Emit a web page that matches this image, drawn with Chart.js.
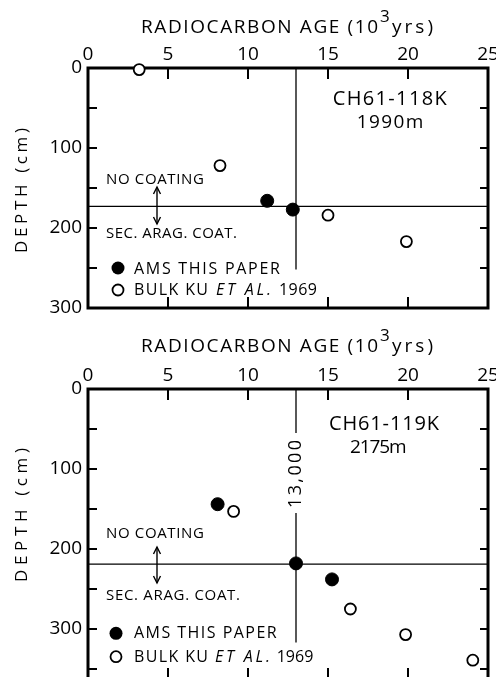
<!DOCTYPE html>
<html><head><meta charset="utf-8">
<script src="https://cdn.jsdelivr.net/npm/chart.js@4.4.1/dist/chart.umd.min.js"></script>
<style>
html,body{margin:0;padding:0;background:#fff;width:496px;height:677px;overflow:hidden;position:relative;}
canvas{position:absolute;left:0;}
#c1{top:0}
#c2{top:318px}
</style></head><body>
<canvas id="c1" width="496" height="318"></canvas>
<canvas id="c2" width="496" height="380"></canvas>
<script>
// ---------- data ----------
const ageTickLabels = ['0', '5', '10', '15', '20', '25'];
const depthTickLabels = ['0', '100', '200', '300'];
const ageMinorTicks = [5, 10, 15, 20];
const depthMinorTicks118 = [50, 100, 150, 200, 250];
const depthMinorTicks119 = [50, 100, 150, 200, 250, 300, 350];

// CH61-118K, 1990 m
const ams118Age = [11.2, 12.8];
const ams118Depth = [166, 177];
const bulk118Age = [3.2, 8.25, 15.0, 19.9];
const bulk118Depth = [2, 122, 184, 217];
const coat118Depth = 173;
const ageLine118Depth = [0, 252];

// CH61-119K, 2175 m
const ams119Age = [8.1, 13.0, 15.25];
const ams119Depth = [144, 218, 238];
const bulk119Age = [9.1, 16.4, 19.85, 24.05];
const bulk119Depth = [153, 275, 307, 339];
const coat119Depth = 219;
const ageLine119Depth = [0, 55, 155, 317];

const ageLine = 13; // 13,000 yr

const FONT = '"Open Sans", "DejaVu Sans", sans-serif';

function pts(xs, ys) { return xs.map((x, i) => ({x: x, y: ys[i]})); }

function spaced(ctx, text, x, y, width, size, o) {
  o = o || {};
  ctx.save();
  ctx.font = (o.italic ? 'italic ' : '') + size + 'px ' + FONT;
  ctx.letterSpacing = '0px';
  const nat = ctx.measureText(text).width;
  const n = Array.from(text).length;
  const ls = n > 1 ? (width - nat) / (n - 1) : 0;
  ctx.letterSpacing = ls.toFixed(2) + 'px';
  ctx.fillStyle = '#000';
  ctx.textAlign = 'left';
  if (o.rotate) {
    ctx.textBaseline = 'middle';
    ctx.translate(x, y);
    ctx.rotate(-Math.PI / 2);
    ctx.fillText(text, -width / 2, 0);
  } else {
    ctx.textBaseline = 'alphabetic';
    ctx.fillText(text, x, y);
  }
  ctx.restore();
}

function seg(ctx, x1, y1, x2, y2) { ctx.beginPath(); ctx.moveTo(x1, y1); ctx.lineTo(x2, y2); ctx.stroke(); }

const framePlugin = {
  id: 'frame',
  beforeDatasetsDraw(chart) {
    const {ctx, chartArea: a, scales: {x, y}} = chart;
    const ann = chart.options.plugins.frame;
    ctx.save();
    ctx.strokeStyle = '#000';
    ctx.lineWidth = 2;
    for (const v of ageMinorTicks) {
      const px = x.getPixelForValue(v);
      seg(ctx, px, a.top, px, a.top + 11);
      seg(ctx, px, a.bottom, px, a.bottom - 11);
    }
    for (const v of ann.depthMinor) {
      const py = y.getPixelForValue(v);
      seg(ctx, a.left, py, a.left + 9, py);
      seg(ctx, a.right, py, a.right - 8, py);
    }
    ctx.lineWidth = 3;
    ctx.strokeRect(a.left, a.top, a.right - a.left, a.bottom - a.top);
    ctx.restore();
  },
  afterDraw(chart) {
    const {ctx, chartArea: a, scales: {x}} = chart;
    const c = chart.options.plugins.frame;
    const L = a.left, T = a.top;
    // x-axis title
    spaced(ctx, 'RADIOCARBON AGE (10', L + 53, T + c.titleY, 237, 19);
    spaced(ctx, '3', L + 292, T + c.supY, 8, 17);
    spaced(ctx, 'yrs)', L + 304, T + c.titleY, 41, 19);
    // y-axis title
    spaced(ctx, 'DEPTH (cm)', L + c.depth.dx, T + c.depth.dy, c.depth.w, 17, {rotate: true});
    // core labels
    spaced(ctx, c.core.text, L + c.core.dx, T + c.core.dy, c.core.w, 20);
    spaced(ctx, c.water.text, L + c.water.dx, T + c.water.dy, c.water.w, 19);
    // coating notes
    spaced(ctx, 'NO COATING', L + c.noCoat.dx, T + c.noCoat.dy, c.noCoat.w, 15);
    spaced(ctx, 'SEC. ARAG. COAT.', L + c.sec.dx, T + c.sec.dy, c.sec.w, 15);
    // arrow
    ctx.save();
    ctx.strokeStyle = '#000';
    ctx.lineWidth = 1.4;
    const ax = L + c.arrow.dx, y1 = T + c.arrow.y1, y2 = T + c.arrow.y2;
    seg(ctx, ax, y1, ax, y2);
    ctx.beginPath(); ctx.moveTo(ax - 3.5, y1 + 7); ctx.lineTo(ax, y1); ctx.lineTo(ax + 3.5, y1 + 7); ctx.stroke();
    ctx.beginPath(); ctx.moveTo(ax - 3.5, y2 - 7); ctx.lineTo(ax, y2); ctx.lineTo(ax + 3.5, y2 - 7); ctx.stroke();
    // legend markers
    ctx.fillStyle = '#000';
    ctx.beginPath(); ctx.arc(L + c.leg.mx, T + c.leg.my1, 6.5, 0, Math.PI * 2); ctx.fill();
    ctx.fillStyle = '#fff';
    ctx.lineWidth = 1.8;
    ctx.beginPath(); ctx.arc(L + c.leg.mx, T + c.leg.my2, 5.5, 0, Math.PI * 2); ctx.fill(); ctx.stroke();
    ctx.restore();
    spaced(ctx, 'AMS THIS PAPER', L + 46, T + c.leg.ty1, c.leg.w1, 16);
    spaced(ctx, 'BULK KU', L + 46, T + c.leg.ty2, 74, 16);
    spaced(ctx, 'ET AL.', L + c.leg.etx, T + c.leg.ty2, c.leg.etw, 16, {italic: true});
    spaced(ctx, '1969', L + c.leg.yx, T + c.leg.ty2, c.leg.yw, 16);
    // 13,000 label
    if (c.label13) {
      spaced(ctx, '13,000', x.getPixelForValue(ageLine), T + c.label13.dy, c.label13.w, 18, {rotate: true});
    }
  }
};

function makePanel(id, cfg) {
  const ctx = document.getElementById(id).getContext('2d');
  const lineDs = (data) => ({
    type: 'line', data: data, borderColor: '#000', borderWidth: 1.3,
    pointRadius: 0, showLine: true, fill: false, spanGaps: false, clip: false
  });
  return new Chart(ctx, {
    type: 'scatter',
    data: {
      datasets: [
        {label: 'AMS THIS PAPER', data: cfg.ams, pointStyle: 'circle', pointRadius: 6.5,
         backgroundColor: '#000', borderColor: '#000', borderWidth: 1, clip: false},
        {label: 'BULK KU ET AL. 1969', data: cfg.bulk, pointStyle: 'circle', pointRadius: 5.5,
         backgroundColor: '#fff', borderColor: '#000', borderWidth: 1.8, clip: false},
        lineDs(cfg.coatLine),
        lineDs(cfg.ageLineData)
      ]
    },
    options: {
      responsive: false, animation: false, devicePixelRatio: 1,
      layout: {padding: {left: 0, top: 0, right: 8, bottom: cfg.padBottom}},
      plugins: {legend: {display: false}, tooltip: {enabled: false}, frame: cfg.ann},
      scales: {
        x: {
          type: 'linear', position: 'top', min: 0, max: 25,
          grid: {display: false, drawTicks: false}, border: {display: false},
          ticks: {stepSize: 5, includeBounds: false, color: '#000', padding: 2, maxRotation: 0,
                  font: {family: FONT, size: 19},
                  callback: (v) => ageTickLabels[ageTickLabels.indexOf(String(v))] || ''},
          afterFit(s) { s.height = cfg.top; s.paddingLeft = 0; s.paddingRight = 0; }
        },
        y: {
          type: 'linear', position: 'left', reverse: true, min: 0, max: cfg.maxDepth,
          grid: {display: false, drawTicks: false}, border: {display: false},
          ticks: {stepSize: 100, includeBounds: false, color: '#000', padding: 6,
                  font: {family: FONT, size: 19},
                  callback: (v) => depthTickLabels.includes(String(v)) ? String(v) : ''},
          afterFit(s) { s.width = 88; s.paddingTop = 0; s.paddingBottom = 0; }
        }
      }
    },
    plugins: [framePlugin]
  });
}

makePanel('c1', {
  top: 68, padBottom: 10, maxDepth: 300,
  ams: pts(ams118Age, ams118Depth),
  bulk: pts(bulk118Age, bulk118Depth),
  coatLine: [{x: 0, y: coat118Depth}, {x: 25, y: coat118Depth}],
  ageLineData: ageLine118Depth.map(d => ({x: ageLine, y: d})),
  ann: {
    depthMinor: depthMinorTicks118,
    titleY: -35, supY: -46,
    depth: {dx: -66, dy: 122.5, w: 125},
    core: {text: 'CH61-118K', dx: 244.7, dy: 37, w: 114},
    water: {text: '1990m', dx: 268.7, dy: 60, w: 66.7},
    noCoat: {dx: 18, dy: 116.3, w: 98},
    sec: {dx: 18, dy: 170.3, w: 131},
    arrow: {dx: 69, y1: 119, y2: 156},
    leg: {mx: 30, my1: 200, my2: 222, ty1: 206, ty2: 227, w1: 146,
          etx: 128, etw: 55, yx: 191, yw: 38},
    label13: null
  }
});

makePanel('c2', {
  top: 71, padBottom: 19, maxDepth: 362.5,
  ams: pts(ams119Age, ams119Depth),
  bulk: pts(bulk119Age, bulk119Depth),
  coatLine: [{x: 0, y: coat119Depth}, {x: 25, y: coat119Depth}],
  ageLineData: [
    {x: ageLine, y: ageLine119Depth[0]}, {x: ageLine, y: ageLine119Depth[1]},
    {x: ageLine, y: null},
    {x: ageLine, y: ageLine119Depth[2]}, {x: ageLine, y: ageLine119Depth[3]}
  ],
  ann: {
    depthMinor: depthMinorTicks119,
    titleY: -37, supY: -48,
    depth: {dx: -66, dy: 126, w: 134},
    core: {text: 'CH61-119K', dx: 241, dy: 41, w: 110},
    water: {text: '2175m', dx: 262, dy: 64, w: 56.7},
    noCoat: {dx: 18, dy: 149, w: 98},
    sec: {dx: 18, dy: 211, w: 134},
    arrow: {dx: 69, y1: 158, y2: 194},
    leg: {mx: 28, my1: 244.3, my2: 267.7, ty1: 249.3, ty2: 272.7, w1: 142.7,
          etx: 127, etw: 55, yx: 188.7, yw: 36.6},
    label13: {dy: 85, w: 68}
  }
});
</script>
</body></html>
